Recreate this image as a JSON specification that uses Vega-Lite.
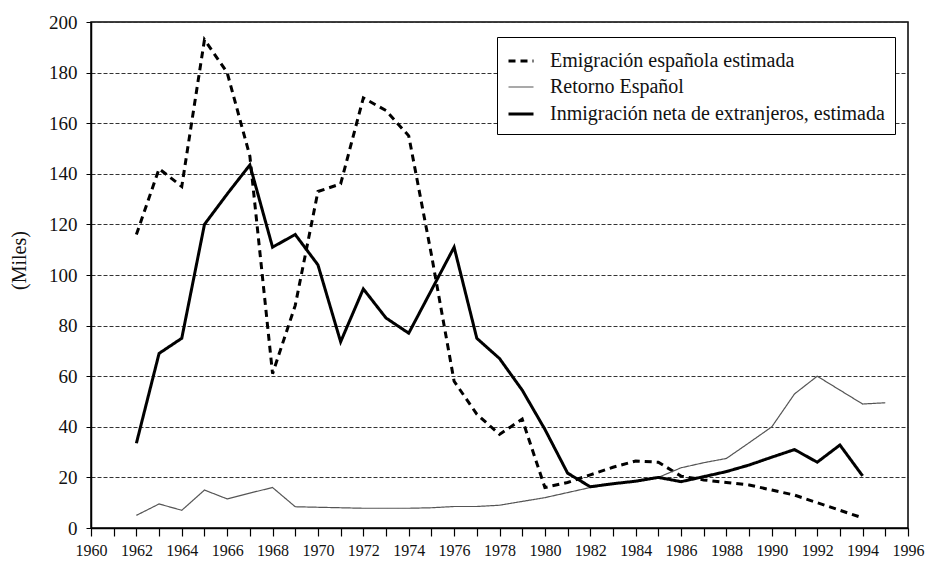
{
  "$schema": "https://vega.github.io/schema/vega-lite/v6.json",
  "width": 817,
  "height": 506,
  "autosize": {"type": "none"},
  "padding": {"left": 91, "top": 22, "right": 20, "bottom": 36},
  "background": "white",
  "config": {
    "view": {"stroke": "#000", "strokeWidth": 1.5},
    "font": "Liberation Serif",
    "axis": {"labelFont": "Liberation Serif", "titleFont": "Liberation Serif", "labelColor": "#111", "titleColor": "#111", "domainColor": "#000", "tickColor": "#000", "titleFontWeight": "normal"},
    "legend": {"labelFont": "Liberation Serif", "labelColor": "#111"}
  },
  "data": {"values": [
    {"year": 1962, "serie": "Emigración española estimada", "value": 116},
    {"year": 1963, "serie": "Emigración española estimada", "value": 142},
    {"year": 1964, "serie": "Emigración española estimada", "value": 135},
    {"year": 1965, "serie": "Emigración española estimada", "value": 193},
    {"year": 1966, "serie": "Emigración española estimada", "value": 180},
    {"year": 1967, "serie": "Emigración española estimada", "value": 147},
    {"year": 1968, "serie": "Emigración española estimada", "value": 61},
    {"year": 1969, "serie": "Emigración española estimada", "value": 88},
    {"year": 1970, "serie": "Emigración española estimada", "value": 133},
    {"year": 1971, "serie": "Emigración española estimada", "value": 136},
    {"year": 1972, "serie": "Emigración española estimada", "value": 170},
    {"year": 1973, "serie": "Emigración española estimada", "value": 165},
    {"year": 1974, "serie": "Emigración española estimada", "value": 155},
    {"year": 1975, "serie": "Emigración española estimada", "value": 108},
    {"year": 1976, "serie": "Emigración española estimada", "value": 58},
    {"year": 1977, "serie": "Emigración española estimada", "value": 45},
    {"year": 1978, "serie": "Emigración española estimada", "value": 37},
    {"year": 1979, "serie": "Emigración española estimada", "value": 43},
    {"year": 1980, "serie": "Emigración española estimada", "value": 16},
    {"year": 1981, "serie": "Emigración española estimada", "value": 18},
    {"year": 1982, "serie": "Emigración española estimada", "value": 21},
    {"year": 1983, "serie": "Emigración española estimada", "value": 24},
    {"year": 1984, "serie": "Emigración española estimada", "value": 26.5},
    {"year": 1985, "serie": "Emigración española estimada", "value": 26},
    {"year": 1986, "serie": "Emigración española estimada", "value": 20.5},
    {"year": 1987, "serie": "Emigración española estimada", "value": 19},
    {"year": 1988, "serie": "Emigración española estimada", "value": 18},
    {"year": 1989, "serie": "Emigración española estimada", "value": 17},
    {"year": 1990, "serie": "Emigración española estimada", "value": 15},
    {"year": 1991, "serie": "Emigración española estimada", "value": 13},
    {"year": 1992, "serie": "Emigración española estimada", "value": 10},
    {"year": 1993, "serie": "Emigración española estimada", "value": 7},
    {"year": 1994, "serie": "Emigración española estimada", "value": 4},
    {"year": 1962, "serie": "Retorno Español", "value": 5},
    {"year": 1963, "serie": "Retorno Español", "value": 9.5},
    {"year": 1964, "serie": "Retorno Español", "value": 7},
    {"year": 1965, "serie": "Retorno Español", "value": 15},
    {"year": 1966, "serie": "Retorno Español", "value": 11.5},
    {"year": 1967, "serie": "Retorno Español", "value": 13.8},
    {"year": 1968, "serie": "Retorno Español", "value": 16},
    {"year": 1969, "serie": "Retorno Español", "value": 8.4},
    {"year": 1970, "serie": "Retorno Español", "value": 8.2},
    {"year": 1971, "serie": "Retorno Español", "value": 8},
    {"year": 1972, "serie": "Retorno Español", "value": 7.8},
    {"year": 1973, "serie": "Retorno Español", "value": 7.8},
    {"year": 1974, "serie": "Retorno Español", "value": 7.8},
    {"year": 1975, "serie": "Retorno Español", "value": 8},
    {"year": 1976, "serie": "Retorno Español", "value": 8.5},
    {"year": 1977, "serie": "Retorno Español", "value": 8.5},
    {"year": 1978, "serie": "Retorno Español", "value": 9},
    {"year": 1979, "serie": "Retorno Español", "value": 10.5},
    {"year": 1980, "serie": "Retorno Español", "value": 12},
    {"year": 1981, "serie": "Retorno Español", "value": 14},
    {"year": 1982, "serie": "Retorno Español", "value": 16},
    {"year": 1983, "serie": "Retorno Español", "value": 17.5},
    {"year": 1984, "serie": "Retorno Español", "value": 18.5},
    {"year": 1985, "serie": "Retorno Español", "value": 20},
    {"year": 1986, "serie": "Retorno Español", "value": 23.8},
    {"year": 1987, "serie": "Retorno Español", "value": 25.8},
    {"year": 1988, "serie": "Retorno Español", "value": 27.5},
    {"year": 1989, "serie": "Retorno Español", "value": 33.7},
    {"year": 1990, "serie": "Retorno Español", "value": 40},
    {"year": 1991, "serie": "Retorno Español", "value": 53},
    {"year": 1992, "serie": "Retorno Español", "value": 60},
    {"year": 1993, "serie": "Retorno Español", "value": 54.5},
    {"year": 1994, "serie": "Retorno Español", "value": 49},
    {"year": 1995, "serie": "Retorno Español", "value": 49.5},
    {"year": 1962, "serie": "Inmigración neta de extranjeros, estimada", "value": 33.5},
    {"year": 1963, "serie": "Inmigración neta de extranjeros, estimada", "value": 69},
    {"year": 1964, "serie": "Inmigración neta de extranjeros, estimada", "value": 75},
    {"year": 1965, "serie": "Inmigración neta de extranjeros, estimada", "value": 120},
    {"year": 1966, "serie": "Inmigración neta de extranjeros, estimada", "value": 132},
    {"year": 1967, "serie": "Inmigración neta de extranjeros, estimada", "value": 143.5},
    {"year": 1968, "serie": "Inmigración neta de extranjeros, estimada", "value": 111},
    {"year": 1969, "serie": "Inmigración neta de extranjeros, estimada", "value": 116},
    {"year": 1970, "serie": "Inmigración neta de extranjeros, estimada", "value": 104},
    {"year": 1971, "serie": "Inmigración neta de extranjeros, estimada", "value": 73.6},
    {"year": 1972, "serie": "Inmigración neta de extranjeros, estimada", "value": 94.5},
    {"year": 1973, "serie": "Inmigración neta de extranjeros, estimada", "value": 83},
    {"year": 1974, "serie": "Inmigración neta de extranjeros, estimada", "value": 77},
    {"year": 1975, "serie": "Inmigración neta de extranjeros, estimada", "value": 94},
    {"year": 1976, "serie": "Inmigración neta de extranjeros, estimada", "value": 111},
    {"year": 1977, "serie": "Inmigración neta de extranjeros, estimada", "value": 75},
    {"year": 1978, "serie": "Inmigración neta de extranjeros, estimada", "value": 67},
    {"year": 1979, "serie": "Inmigración neta de extranjeros, estimada", "value": 54.5},
    {"year": 1980, "serie": "Inmigración neta de extranjeros, estimada", "value": 39},
    {"year": 1981, "serie": "Inmigración neta de extranjeros, estimada", "value": 21.7},
    {"year": 1982, "serie": "Inmigración neta de extranjeros, estimada", "value": 16.3},
    {"year": 1983, "serie": "Inmigración neta de extranjeros, estimada", "value": 17.5},
    {"year": 1984, "serie": "Inmigración neta de extranjeros, estimada", "value": 18.5},
    {"year": 1985, "serie": "Inmigración neta de extranjeros, estimada", "value": 20},
    {"year": 1986, "serie": "Inmigración neta de extranjeros, estimada", "value": 18.3},
    {"year": 1987, "serie": "Inmigración neta de extranjeros, estimada", "value": 20.3},
    {"year": 1988, "serie": "Inmigración neta de extranjeros, estimada", "value": 22.3},
    {"year": 1989, "serie": "Inmigración neta de extranjeros, estimada", "value": 24.9},
    {"year": 1990, "serie": "Inmigración neta de extranjeros, estimada", "value": 28},
    {"year": 1991, "serie": "Inmigración neta de extranjeros, estimada", "value": 31},
    {"year": 1992, "serie": "Inmigración neta de extranjeros, estimada", "value": 26},
    {"year": 1993, "serie": "Inmigración neta de extranjeros, estimada", "value": 32.8},
    {"year": 1994, "serie": "Inmigración neta de extranjeros, estimada", "value": 20.6}
  ]},
  "mark": {"type": "line", "strokeCap": "butt", "strokeJoin": "miter"},
  "encoding": {
    "x": {
      "field": "year", "type": "quantitative",
      "scale": {"domain": [1960, 1996], "nice": false, "zero": false},
      "axis": {
        "title": null,
        "values": [1960,1961,1962,1963,1964,1965,1966,1967,1968,1969,1970,1971,1972,1973,1974,1975,1976,1977,1978,1979,1980,1981,1982,1983,1984,1985,1986,1987,1988,1989,1990,1991,1992,1993,1994,1995,1996],
        "format": "d",
        "labelExpr": "datum.value % 2 === 0 ? datum.label : ''",
        "grid": false,
        "tickSize": 8,
        "tickWidth": 1.2,
        "domainWidth": 1.5,
        "labelFontSize": 16,
        "labelPadding": 6,
        "labelFlush": false,
        "labelOverlap": false
      }
    },
    "y": {
      "field": "value", "type": "quantitative",
      "scale": {"domain": [0, 200], "nice": false},
      "axis": {
        "title": "(Miles)",
        "values": [0,20,40,60,80,100,120,140,160,180,200],
        "grid": true,
        "gridDash": [4, 2],
        "gridColor": "#333",
        "gridWidth": 1,
        "tickSize": 5,
        "tickWidth": 1,
        "domainWidth": 1.5,
        "labelFontSize": 19,
        "labelPadding": 9,
        "titleFontSize": 20,
        "titleX": -72,
        "titleY": 238,
        "titleAngle": -90,
        "titleBaseline": "middle",
        "titleAlign": "center"
      }
    },
    "color": {
      "field": "serie", "type": "nominal",
      "scale": {"domain": ["Emigración española estimada", "Retorno Español", "Inmigración neta de extranjeros, estimada"], "range": ["#000000", "#555555", "#000000"]},
      "legend": {
        "title": null,
        "orient": "none",
        "legendX": 406,
        "legendY": 15,
        "padding": 10,
        "strokeColor": "#000",
        "fillColor": "#fff",
        "symbolType": "stroke",
        "symbolSize": 625,
        "labelFontSize": 20,
        "labelOffset": 15,
        "rowPadding": 2.5,
        "labelLimit": 500
      }
    },
    "strokeDash": {
      "field": "serie", "type": "nominal",
      "scale": {"domain": ["Emigración española estimada", "Retorno Español", "Inmigración neta de extranjeros, estimada"], "range": [[7, 5], [1, 0], [1, 0]]}
    },
    "strokeWidth": {
      "field": "serie", "type": "nominal",
      "scale": {"type": "ordinal", "domain": ["Emigración española estimada", "Retorno Español", "Inmigración neta de extranjeros, estimada"], "range": [3, 1.2, 3]}
    }
  }
}
